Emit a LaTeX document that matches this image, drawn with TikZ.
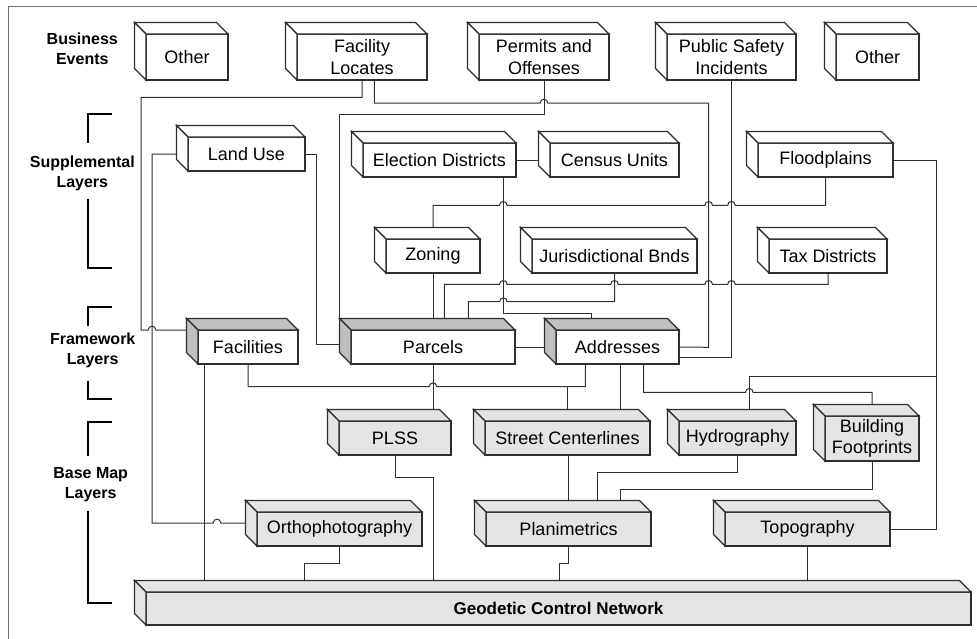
\documentclass[tikz,border=0pt]{standalone}
\usepackage{fontspec}
\setmainfont{Liberation Sans}
\pgfdeclarelayer{bg}
\pgfsetlayers{bg,main}
\definecolor{edgec}{HTML}{2E2E2E}
\definecolor{wirec}{HTML}{303030}
\definecolor{fwside}{HTML}{C0C0C0}
\definecolor{basefill}{HTML}{E4E4E4}
\definecolor{framec}{HTML}{707070}
\tikzset{
  boxface/.style={draw=edgec, line width=1.1pt, line join=miter},
  cubefront/.style={boxface, rectangle, inner sep=0pt, outer sep=0pt, align=center, font=\fontsize{18}{21.5}\selectfont},
  wire/.style={draw=wirec, line width=1pt},
  bracket/.style={draw=black, line width=2pt},
  lbl/.style={align=center, inner sep=0pt, font=\bfseries\fontsize{16}{20}\selectfont},
}
% name, cx, cy, w, h, text, front fill, side/top fill
\newcommand\cubox[8]{%
  \node[cubefront, fill=#7, minimum width=#4pt, minimum height=#5pt] (#1) at (#2,#3) {#6};
  \draw[boxface, fill=#8] (#1.north west) -- ++(-11.5,-11.5) -- ++(#4,0) -- (#1.north east) -- cycle;
  \draw[boxface, fill=#8] (#1.north west) -- ++(-11.5,-11.5) -- ++(0,#5) -- (#1.south west) -- cycle;
}
\newcommand\hopat[2]{-- (#1-3.8,#2) .. controls (#1-3.8,#2-5) and (#1+3.8,#2-5) .. (#1+3.8,#2)}
\begin{document}
\begin{tikzpicture}[x=1pt,y=-1pt]
\useasboundingbox (0,0) rectangle (977,638);
\draw[framec, line width=1pt] (8,640) -- (8,6) -- (979,6);

% labels and brackets
\node[lbl] (lbe) at (82.3,49) {Business\\Events};
\node[lbl] (lsl) at (82.3,173) {Supplemental\\Layers};
\node[lbl] (lfl) at (92.7,350) {Framework\\Layers};
\node[lbl] (lbm) at (90.7,485) {Base Map\\Layers};
\draw[bracket] (111.7,114) -- (87.7,114) -- (87.7,143);
\draw[bracket] (87.7,199) -- (87.7,268) -- (111.7,268);
\draw[bracket] (111.7,307) -- (87.7,307) -- (87.7,325.7);
\draw[bracket] (87.7,380.7) -- (87.7,398.7) -- (111.7,398.7);
\draw[bracket] (111.7,421.7) -- (87.7,421.7) -- (87.7,455.7);
\draw[bracket] (87.7,511) -- (87.7,603.3) -- (111.7,603.3);

% boxes
\cubox{other1}{187}{57}{82}{46}{Other}{white}{white}
\cubox{facloc}{362}{57}{130}{46}{Facility\\Locates}{white}{white}
\cubox{permits}{544}{57}{130}{46}{Permits and\\Offenses}{white}{white}
\cubox{safety}{731.5}{57}{129}{46}{Public Safety\\Incidents}{white}{white}
\cubox{other2}{877.5}{57}{83}{46}{Other}{white}{white}
\cubox{landuse}{246.5}{154}{117}{34}{Land Use}{white}{white}
\cubox{election}{439.5}{160}{153}{34}{Election Districts}{white}{white}
\cubox{census}{614.5}{160}{129}{34}{Census Units}{white}{white}
\cubox{flood}{825.5}{160}{135}{34}{Floodplains}{white}{white}
\cubox{zoning}{433}{256}{94}{34}{Zoning}{white}{white}
\cubox{juris}{614.5}{256}{165}{34}{Jurisdictional Bnds}{white}{white}
\cubox{tax}{828}{256}{118}{34}{Tax Districts}{white}{white}
\cubox{facil}{248}{347}{100}{34}{Facilities}{white}{fwside}
\cubox{parcels}{433}{347}{164}{34}{Parcels}{white}{fwside}
\cubox{addr}{617.5}{347}{123}{34}{Addresses}{white}{fwside}
\cubox{plss}{395}{438}{112}{34}{PLSS}{basefill}{basefill}
\cubox{street}{567.5}{438}{165}{34}{Street Centerlines}{basefill}{basefill}
\cubox{hydro}{737.5}{438}{117}{34}{Hydrography}{basefill}{basefill}
\cubox{bldg}{872}{438.5}{94}{45}{Building\\Footprints}{basefill}{basefill}
\cubox{ortho}{339.5}{529}{165}{34}{Orthophotography}{basefill}{basefill}
\cubox{plan}{568.5}{529}{165}{34}{Planimetrics}{basefill}{basefill}
\cubox{topo}{807.5}{529}{165}{34}{Topography}{basefill}{basefill}
\cubox{geo}{558.5}{608.5}{825}{33}{\bfseries\fontsize{17}{20}\selectfont Geodetic Control Network}{basefill}{basefill}

% connectors
\begin{pgfonlayer}{bg}
\draw[wire] (facloc.south) -- (362,97.3) -- (141,97.3) -- (141,330) \hopat{152}{330} -- (facil.north west);
\draw[wire] (374.3,80) -- (374.3,103) \hopat{544}{103} -- (708.7,103) -- (708.7,347.3) -- (addr.east);
\draw[wire] (safety.south) -- (731.5,357.3) -- (679,357.3);
\draw[wire] (permits.south) -- (544,114.3) -- (339.3,114.3) -- (339.3,325);
\draw[wire] (landuse.west) -- (152,154) -- (152,523) \hopat{217}{523} -- (257,523);
\draw[wire] (landuse.east) -- (316,154) -- (316,344.3) -- (351,344.3);
\draw[wire] (election.east) -- (census.west);
\draw[wire] (503.3,177) -- (503.3,313.3) -- (591.5,313.3) -- (591.5,330);
\draw[wire] (zoning.north) -- (433,205.3) \hopat{503.3}{205.3} \hopat{708.7}{205.3} \hopat{731.5}{205.3} -- (825.5,205.3) -- (flood.south);
\draw[wire] (flood.east) -- (936.7,160) -- (936.7,529) -- (topo.east);
\draw[wire] (936.7,376) -- (749.3,376) -- (749.3,421);
\draw[wire] (444.3,330) -- (444.3,284.3) \hopat{503.3}{284.3} \hopat{614.5}{284.3} \hopat{708.7}{284.3} \hopat{731.5}{284.3} -- (828,284.3) -- (tax.south);
\draw[wire] (468.3,330) -- (468.3,301.7) \hopat{503.3}{301.7} -- (614.5,301.7) -- (juris.south);
\draw[wire] (zoning.south) -- (parcels.north);
\draw[wire] (parcels.east) -- (addr.west);
\draw[wire] (parcels.south) -- (433,421);
\draw[wire] (facil.south) -- (248,386.7) \hopat{433}{386.7} -- (585.3,386.7) -- (585.3,364);
\draw[wire] (567.7,386.7) -- (567.7,421);
\draw[wire] (620.3,364) -- (620.3,421);
\draw[wire] (643.7,364) -- (643.7,392.3) \hopat{749.3}{392.3} -- (872,392.3) -- (bldg.north);
\draw[wire] (plss.south) -- (395,477.7) -- (433.3,477.7) -- (433.3,592);
\draw[wire] (568,455) -- (568,512);
\draw[wire] (hydro.south) -- (737.5,472.3) -- (597,472.3) -- (597,512);
\draw[wire] (bldg.south) -- (872,489) -- (620.3,489) -- (620.3,512);
\draw[wire] (plan.south) -- (568.5,563.3) -- (559,563.3) -- (559,592);
\draw[wire] (topo.south) -- (807.5,592);
\draw[wire] (ortho.south) -- (339.5,563.3) -- (304,563.3) -- (304,592);
\draw[wire] (204.7,364) -- (204.7,592);
\end{pgfonlayer}
\end{tikzpicture}
\end{document}
